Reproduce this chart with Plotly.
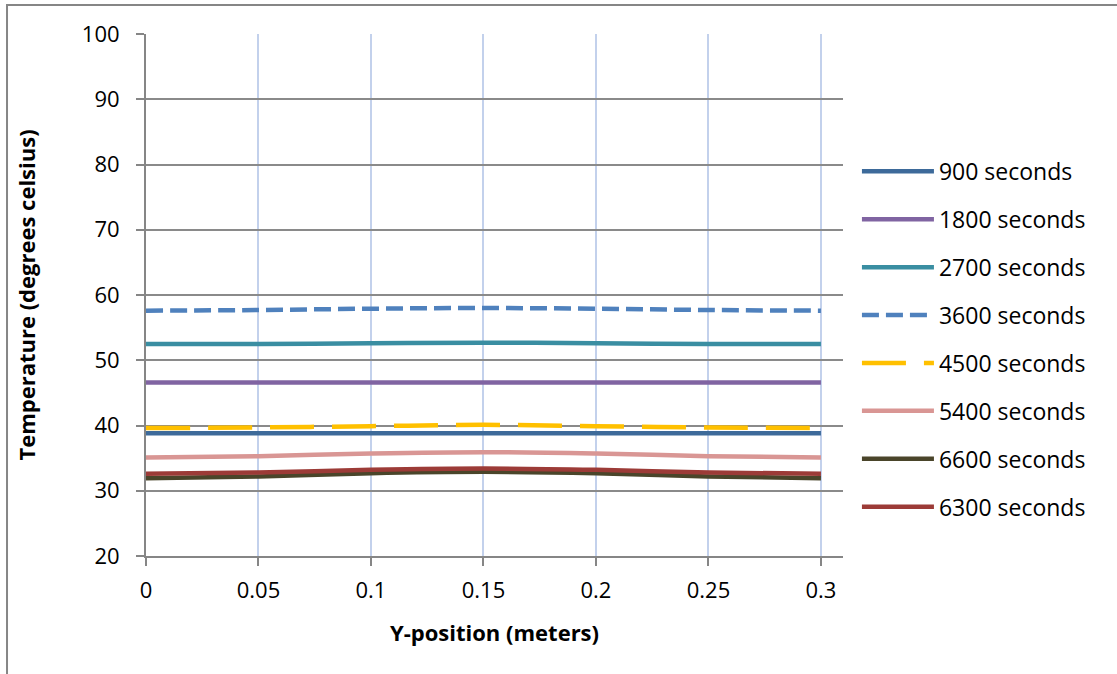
import plotly.graph_objects as go

x_pos = [0, 0.05, 0.1, 0.15, 0.2, 0.25, 0.3]
series_names = ["900 seconds", "1800 seconds", "2700 seconds", "3600 seconds",
                "4500 seconds", "5400 seconds", "6600 seconds", "6300 seconds"]
t900 = [38.8, 38.8, 38.8, 38.8, 38.8, 38.8, 38.8]
t1800 = [46.6, 46.6, 46.6, 46.6, 46.6, 46.6, 46.6]
t2700 = [52.5, 52.5, 52.6, 52.7, 52.6, 52.5, 52.5]
t3600 = [57.6, 57.7, 57.9, 58.0, 57.9, 57.7, 57.6]
t4500 = [39.6, 39.7, 39.9, 40.1, 39.9, 39.7, 39.6]
t5400 = [35.1, 35.3, 35.7, 35.9, 35.7, 35.3, 35.1]
t6600 = [31.9, 32.2, 32.7, 32.9, 32.7, 32.2, 31.9]
t6300 = [32.6, 32.8, 33.2, 33.4, 33.2, 32.8, 32.6]
series_values = [t900, t1800, t2700, t3600, t4500, t5400, t6600, t6300]

colors = ["#3D6A9A", "#8064A2", "#3A8EA2", "#4F81BD", "#FFC000", "#D99694", "#4A452A", "#9C3B37"]
dashes = ["solid", "solid", "solid", "17px,7px", "44px,18px", "solid", "solid", "solid"]

fig = go.Figure()
for i, (name, vals) in enumerate(zip(series_names, series_values)):
    fig.add_trace(go.Scatter(
        x=x_pos, y=vals, name=name, mode="lines",
        line=dict(color=colors[i], width=4.5, dash=dashes[i], shape="spline"),
        legendgroup=name,
    ))

font_family = "Open Sans, Liberation Sans, Arial, sans-serif"
fig.update_layout(
    width=1117, height=674,
    paper_bgcolor="white", plot_bgcolor="white",
    margin=dict(l=146, r=274, t=34, b=118),
    font=dict(family=font_family, size=22, color="black"),
    showlegend=True,
    legend=dict(x=1.02, y=0.778, xanchor="left", yanchor="top",
                font=dict(size=23), tracegroupgap=15, itemwidth=72,
                bgcolor="rgba(0,0,0,0)"),
    xaxis=dict(range=[0, 0.3098], tickvals=[0, 0.05, 0.1, 0.15, 0.2, 0.25, 0.3],
               ticktext=["0", "0.05", "0.1", "0.15", "0.2", "0.25", "0.3"],
               showgrid=True, gridcolor="#C3D1EC", gridwidth=1.5,
               showline=True, linecolor="#868686", linewidth=2,
               ticks="outside", ticklen=8, tickcolor="#868686", tickwidth=2,
               ticklabelstandoff=6, zeroline=False,
               title=dict(text="<b>Y-position (meters)</b>", font=dict(size=22), standoff=22)),
    yaxis=dict(range=[20, 100], dtick=10,
               showgrid=True, gridcolor="#8A8A8A", gridwidth=1.5,
               showline=True, linecolor="#868686", linewidth=2,
               ticks="outside", ticklen=8, tickcolor="#868686", tickwidth=2,
               ticklabelstandoff=12, zeroline=False,
               title=dict(text="<b>Temperature (degrees celsius)</b>", font=dict(size=22), standoff=40)),
    shapes=[dict(type="rect", xref="paper", yref="paper",
                 x0=-0.1994, x1=1.6, y0=-0.5, y1=1.0556,
                 line=dict(color="#868686", width=2), fillcolor="rgba(0,0,0,0)", layer="below")],
)

fig.write_html("out.html", config={"displayModeBar": False},
               post_script="document.body.style.margin='0px';document.body.style.overflow='hidden';")
